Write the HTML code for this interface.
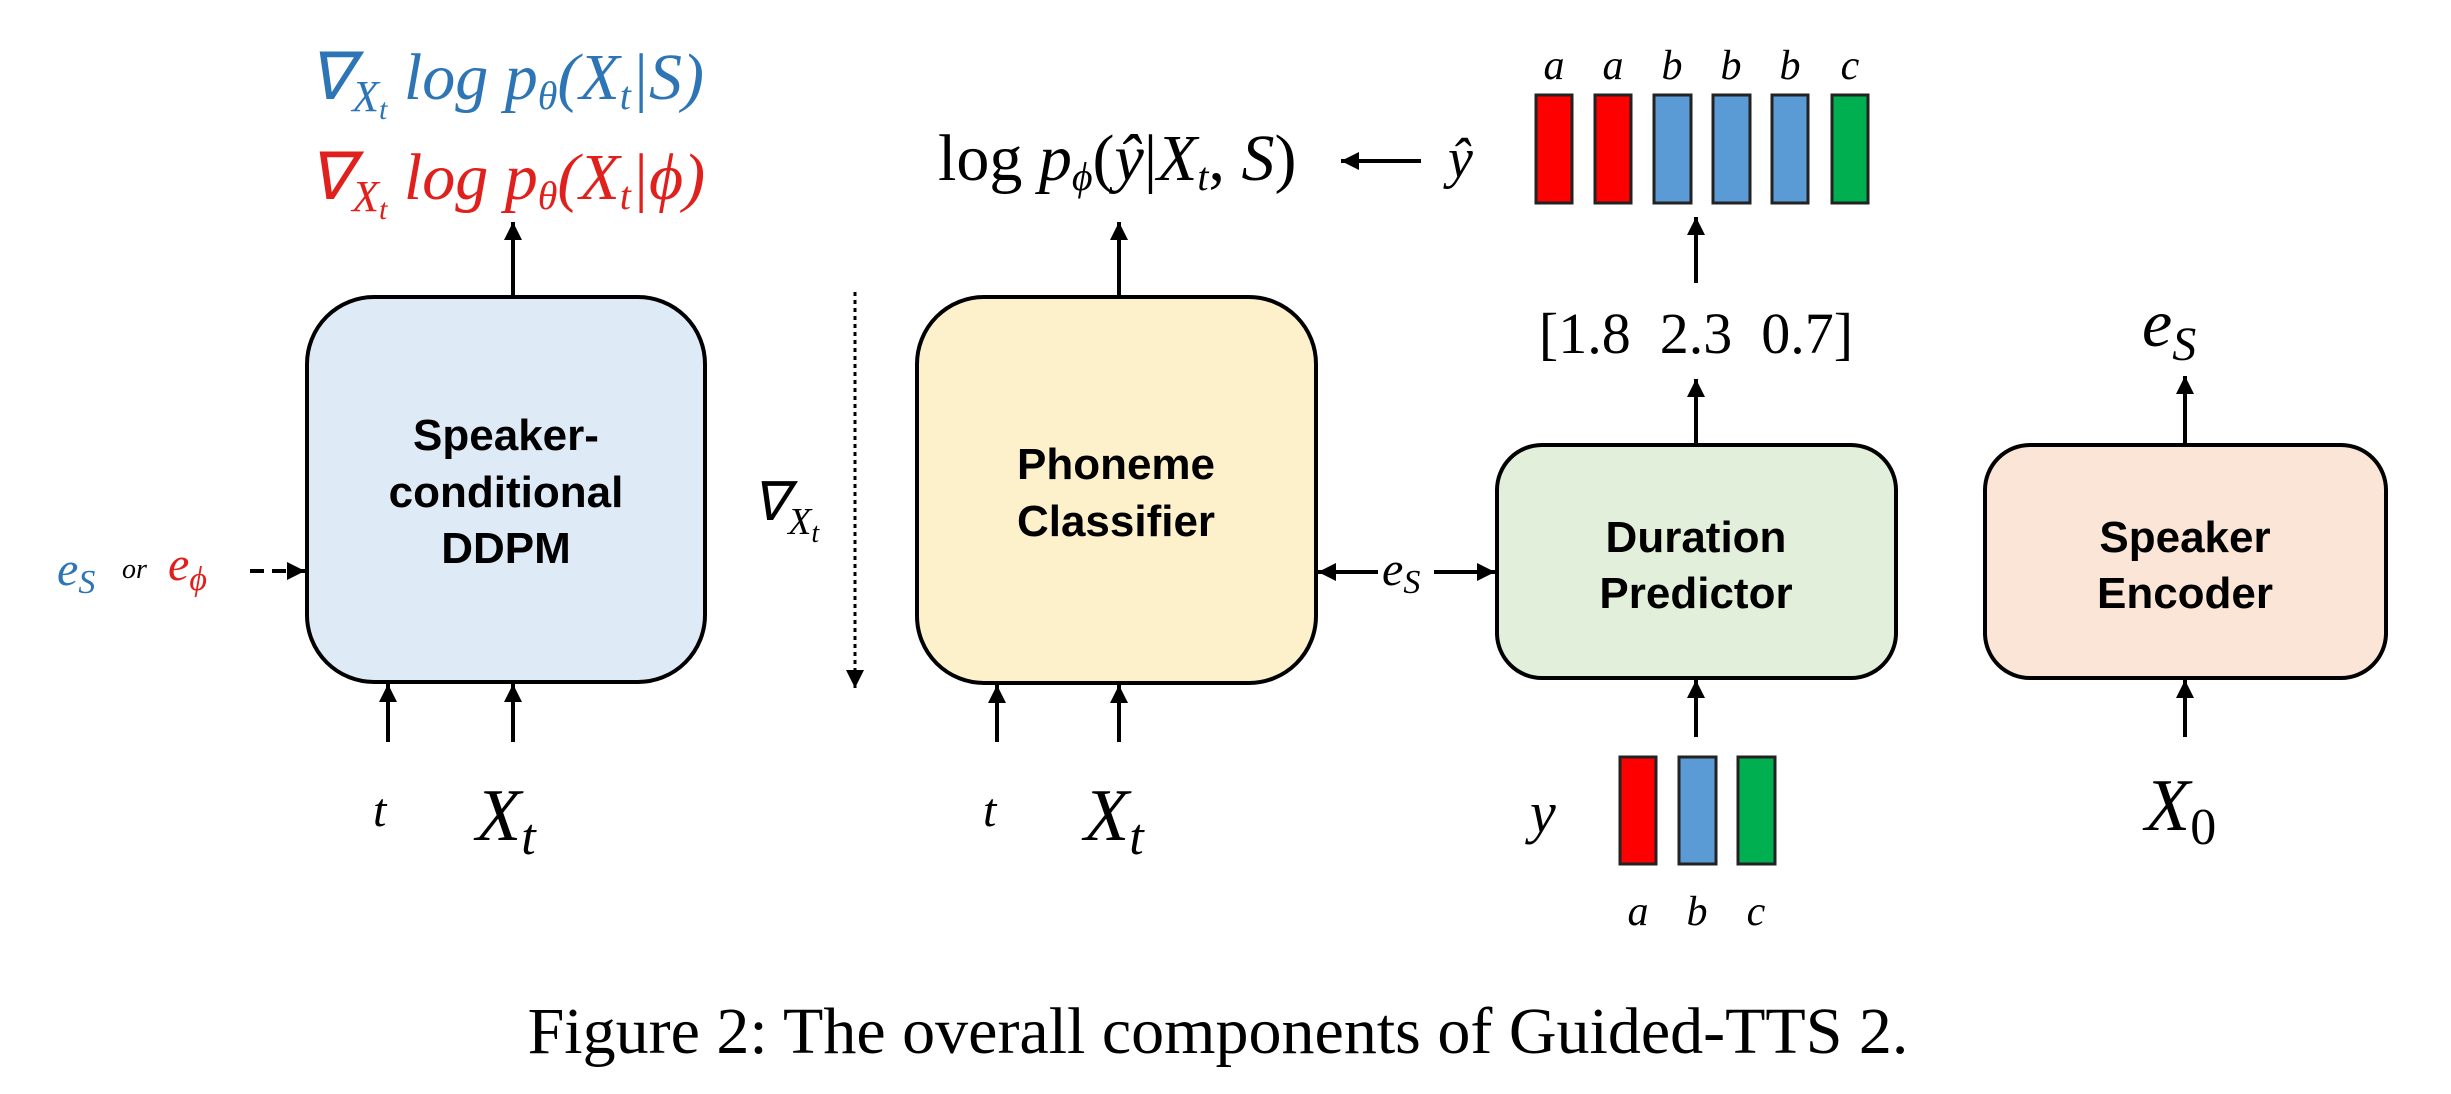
<!DOCTYPE html>
<html><head><meta charset="utf-8"><style>
html,body{margin:0;padding:0;background:#fff;}
svg{display:block;}
.b{font-family:"Liberation Sans",Arial,sans-serif;font-weight:bold;font-size:44px;text-anchor:middle;}
.m{font-family:"Liberation Serif",serif;font-style:italic;}
.r{font-family:"Liberation Serif",serif;}
</style></head><body>
<svg width="2451" height="1094" viewBox="0 0 2451 1094" xmlns="http://www.w3.org/2000/svg">
<defs>
<marker id="a" viewBox="0 0 10 10" refX="10" refY="5" markerWidth="18" markerHeight="18" markerUnits="userSpaceOnUse" orient="auto-start-reverse"><path d="M0,0 L10,5 L0,10 z" fill="#000"/></marker>
</defs>
<g stroke="#000" stroke-width="4">
<rect x="307" y="297" width="398" height="385" rx="67" fill="#deeaf6"/>
<rect x="917" y="297" width="399" height="386" rx="67" fill="#fdf1cc"/>
<rect x="1497" y="445" width="399" height="233" rx="45" fill="#e2efda"/>
<rect x="1985" y="445" width="401" height="233" rx="45" fill="#fbe5d6"/>
</g>
<g stroke="#000" stroke-width="4" fill="none" marker-end="url(#a)">
<line x1="513" y1="297" x2="513" y2="222"/>
<line x1="388" y1="742" x2="388" y2="684"/>
<line x1="513" y1="742" x2="513" y2="684"/>
<line x1="997" y1="742" x2="997" y2="685"/>
<line x1="1119" y1="742" x2="1119" y2="685"/>
<line x1="1119" y1="297" x2="1119" y2="222"/>
<line x1="1421" y1="161" x2="1341" y2="161"/>
<line x1="1696" y1="445" x2="1696" y2="379"/>
<line x1="1696" y1="283" x2="1696" y2="217"/>
<line x1="1696" y1="737" x2="1696" y2="680"/>
<line x1="2185" y1="445" x2="2185" y2="376"/>
<line x1="2185" y1="737" x2="2185" y2="680"/>
<line x1="1378" y1="572" x2="1318" y2="572"/>
<line x1="1434" y1="572" x2="1495" y2="572"/>
<line x1="250" y1="571" x2="305" y2="571" stroke-dasharray="14,8"/>
<line x1="855" y1="292" x2="855" y2="688" stroke-width="3" stroke-dasharray="4,4"/>
</g>
<text class="b" x="506" y="450">Speaker-</text>
<text class="b" x="506" y="507">conditional</text>
<text class="b" x="506" y="563">DDPM</text>
<text class="b" x="1116" y="479">Phoneme</text>
<text class="b" x="1116" y="536">Classifier</text>
<text class="b" x="1696" y="552">Duration</text>
<text class="b" x="1696" y="608">Predictor</text>
<text class="b" x="2185" y="552">Speaker</text>
<text class="b" x="2185" y="608">Encoder</text>
<text class="m" x="308" y="99" font-size="66" fill="#2e75b6">∇<tspan font-size="44" dy="12">X<tspan font-size="30" dy="8">t</tspan></tspan><tspan dy="-20"> log p</tspan><tspan font-size="40" dy="10">θ</tspan><tspan dy="-10">(X</tspan><tspan font-size="40" dy="10">t</tspan><tspan dy="-10">|S)</tspan></text>
<text class="m" x="308" y="199" font-size="66" fill="#e0201c">∇<tspan font-size="44" dy="12">X<tspan font-size="30" dy="8">t</tspan></tspan><tspan dy="-20"> log p</tspan><tspan font-size="40" dy="10">θ</tspan><tspan dy="-10">(X</tspan><tspan font-size="40" dy="10">t</tspan><tspan dy="-10">|ϕ)</tspan></text>
<text class="m" x="57" y="585" font-size="48" fill="#2e75b6">e<tspan font-size="34" dy="8">S</tspan></text>
<text class="m" x="122" y="578" font-size="28" fill="#000">or</text>
<text class="m" x="168" y="580" font-size="48" fill="#e0201c">e<tspan font-size="34" dy="10">ϕ</tspan></text>
<text class="m" x="752" y="520" font-size="54">∇<tspan font-size="38" dy="14">X<tspan font-size="28" dy="8">t</tspan></tspan></text>
<text class="m" x="373" y="826" font-size="48">t</text>
<text class="m" x="476" y="840" font-size="74">X<tspan font-size="52" dy="14">t</tspan></text>
<text class="m" x="983" y="826" font-size="48">t</text>
<text class="m" x="1084" y="840" font-size="74">X<tspan font-size="52" dy="14">t</tspan></text>
<text class="r" x="938" y="180" font-size="66">log <tspan font-style="italic">p</tspan><tspan font-size="40" dy="10" font-style="italic">ϕ</tspan><tspan dy="-10">(</tspan><tspan font-style="italic">ŷ</tspan>|<tspan font-style="italic">X</tspan><tspan font-size="40" dy="10" font-style="italic">t</tspan><tspan dy="-10">, </tspan><tspan font-style="italic">S</tspan>)</text>
<text class="m" x="1448" y="177" font-size="56">ŷ</text>
<g stroke="#222" stroke-width="3">
<rect x="1536" y="95" width="36" height="108" fill="#ff0000"/>
<rect x="1595" y="95" width="36" height="108" fill="#ff0000"/>
<rect x="1654" y="95" width="37" height="108" fill="#5b9bd5"/>
<rect x="1713" y="95" width="37" height="108" fill="#5b9bd5"/>
<rect x="1772" y="95" width="36" height="108" fill="#5b9bd5"/>
<rect x="1832" y="95" width="36" height="108" fill="#00b050"/>
<rect x="1620" y="757" width="36" height="107" fill="#ff0000"/>
<rect x="1679" y="757" width="37" height="107" fill="#5b9bd5"/>
<rect x="1738" y="757" width="37" height="107" fill="#00b050"/>
</g>
<g class="m" font-size="42" text-anchor="middle">
<text x="1554" y="79">a</text><text x="1613" y="79">a</text><text x="1672" y="79">b</text><text x="1731" y="79">b</text><text x="1790" y="79">b</text><text x="1850" y="79">c</text>
<text x="1638" y="925">a</text><text x="1697" y="925">b</text><text x="1756" y="925">c</text>
</g>
<text class="m" x="1530" y="832" font-size="58">y</text>
<text class="r" x="1696" y="353" font-size="58" text-anchor="middle" xml:space="preserve">[1.8  2.3  0.7]</text>
<text class="m" x="1382" y="585" font-size="48">e<tspan font-size="34" dy="8">S</tspan></text>
<text class="m" x="2142" y="346" font-size="68">e<tspan font-size="48" dy="14">S</tspan></text>
<text class="m" x="2145" y="830" font-size="74">X<tspan class="r" font-style="normal" font-size="52" dy="14">0</tspan></text>
<text class="r" x="1218" y="1053" font-size="66" text-anchor="middle">Figure 2: The overall components of Guided-TTS 2.</text>
</svg>
</body></html>
